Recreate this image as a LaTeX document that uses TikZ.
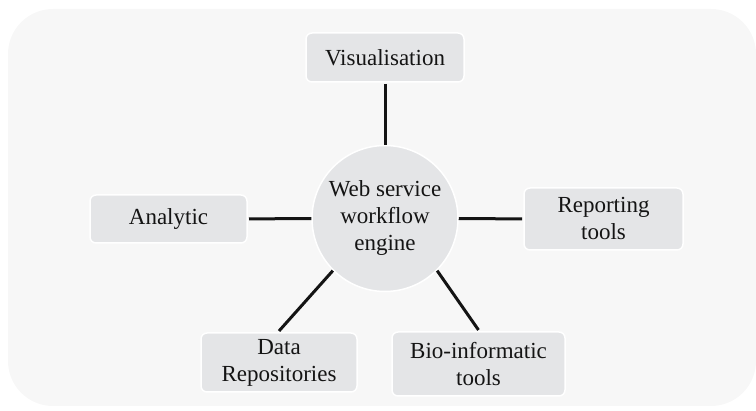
\documentclass[tikz,border=0pt]{standalone}
\usepackage{fontspec}
\setmainfont{Liberation Serif}
\definecolor{panel}{HTML}{F7F7F7}
\definecolor{boxfill}{HTML}{E4E5E7}
\definecolor{ink}{HTML}{141414}

\begin{document}
\begin{tikzpicture}[x=1pt, y=-1pt,
        every node/.style={font=\fontsize{23}{27}\selectfont, text=ink, align=center},
        box/.style={draw=white, line width=1.5pt, fill=boxfill, rounded corners=6pt, inner sep=0pt, outer sep=2pt},
        link/.style={ink, line width=3pt}]
        \useasboundingbox (0,0) rectangle (756,411);
        \fill[panel, rounded corners=45pt] (8,9) rectangle (756,406);

        \node[draw=white, line width=1.5pt, fill=boxfill, circle, minimum size=146pt, inner sep=0pt] (engine) at (385,218.5) {Web service\\workflow\\engine};
        \node[box, minimum width=158pt, minimum height=49pt] (vis) at (385,57.5) {Visualisation};
        \node[box, minimum width=157pt, minimum height=48pt] (ana) at (168.5,219) {Analytic};
        \node[box, minimum width=159pt, minimum height=62pt] (rep) at (603.5,219) {Reporting\\tools};
        \node[box, minimum width=156pt, minimum height=59pt] (data) at (279,362.5) {Data\\Repositories};
        \node[box, minimum width=173pt, minimum height=64pt] (bio) at (478.5,364) {Bio-informatic\\tools};

        \draw[link] (vis) -- (engine);
        \draw[link] (ana) -- (engine);
        \draw[link] (engine) -- (rep);
        \draw[link] (engine.-135) -- (data.north);
        \draw[link] (engine.-45) -- (bio.north);
\end{tikzpicture}
\end{document}
